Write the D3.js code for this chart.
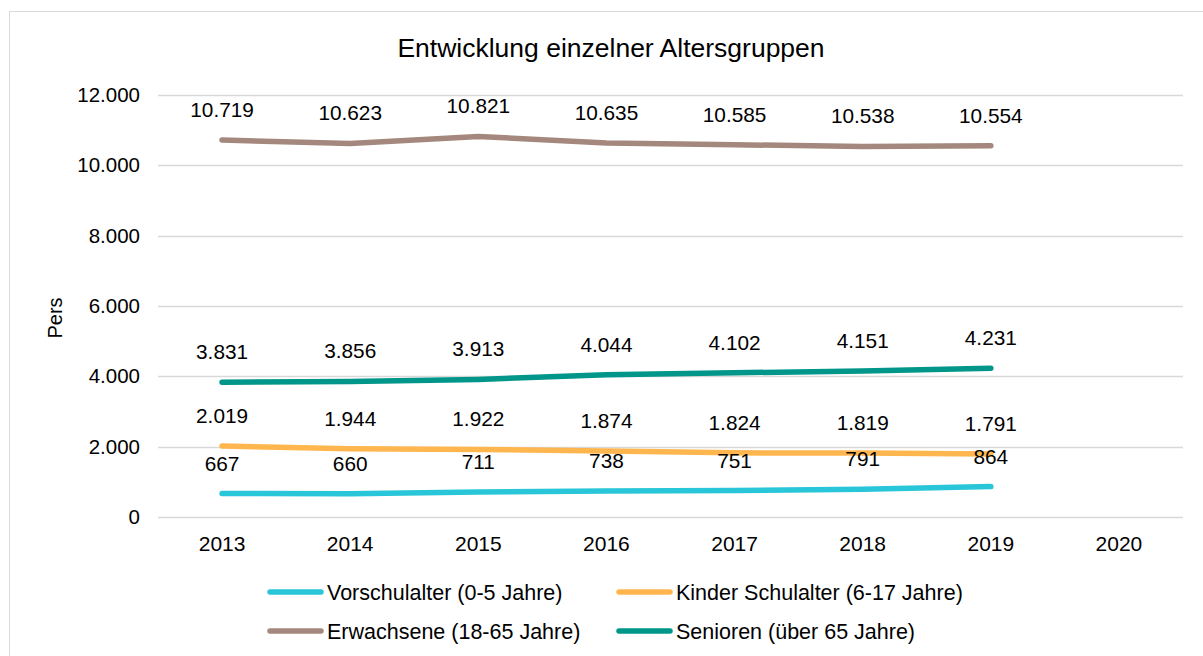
<!DOCTYPE html>
<html>
<head>
<meta charset="utf-8">
<script src="https://cdn.jsdelivr.net/npm/d3@7"></script>
<style>
  html, body { margin: 0; padding: 0; background: #fff; }
  svg { display: block; font-family: "Liberation Sans", Arial, sans-serif; }
</style>
</head>
<body>
<svg id="chart" width="1203" height="656"></svg>
<script>
// Einwohner je Altersgruppe, 2013–2019 (2020 noch ohne Werte)
const years = ["2013", "2014", "2015", "2016", "2017", "2018", "2019", "2020"];
const vorschulalter = [667, 660, 711, 738, 751, 791, 864];
const kinderSchulalter = [2019, 1944, 1922, 1874, 1824, 1819, 1791];
const erwachsene = [10719, 10623, 10821, 10635, 10585, 10538, 10554];
const senioren = [3831, 3856, 3913, 4044, 4102, 4151, 4231];
const yTicks = [0, 2000, 4000, 6000, 8000, 10000, 12000];

const series = [
  { name: "Vorschulalter (0-5 Jahre)", values: vorschulalter, color: "#29c5d8" },
  { name: "Kinder Schulalter (6-17 Jahre)", values: kinderSchulalter, color: "#ffb64f" },
  { name: "Erwachsene (18-65 Jahre)", values: erwachsene, color: "#a4887e" },
  { name: "Senioren (über 65 Jahre)", values: senioren, color: "#00968a" }
];

const svg = d3.select("#chart");
const W = 1203, H = 656;
const plot = { left: 158, right: 1183, top: 95, bottom: 517 };
const FONT = "Liberation Sans, Arial, sans-serif";

// outer frame
svg.append("rect")
  .attr("x", 9.5).attr("y", 11.5)
  .attr("width", W - 9).attr("height", H)
  .attr("fill", "#fff").attr("stroke", "#d9d9d9").attr("stroke-width", 1);

const x = d3.scaleBand().domain(years).range([plot.left, plot.right]);
const y = d3.scaleLinear().domain([0, 12000]).range([plot.bottom, plot.top]);

const fmt = v => d3.format(",")(v).replace(/,/g, ".");

// title
svg.append("text")
  .attr("x", 611).attr("y", 57)
  .attr("text-anchor", "middle")
  .attr("font-size", 26.5).attr("fill", "#000")
  .text("Entwicklung einzelner Altersgruppen");

// gridlines
svg.append("g")
  .selectAll("line").data(yTicks).join("line")
  .attr("x1", plot.left).attr("x2", plot.right)
  .attr("y1", d => Math.round(y(d)) + 0.5).attr("y2", d => Math.round(y(d)) + 0.5)
  .attr("stroke", "#d9d9d9").attr("stroke-width", 1.5);

// y axis
const yAxis = svg.append("g")
  .attr("transform", `translate(${plot.left - 18},0)`)
  .call(d3.axisLeft(y).tickValues(yTicks).tickFormat(fmt).tickSize(0).tickPadding(0));
yAxis.select(".domain").remove();
yAxis.selectAll("text").attr("font-size", 20.5).attr("fill", "#000").attr("font-family", FONT);

// x axis
const xAxis = svg.append("g")
  .attr("transform", `translate(0,${plot.bottom + 16})`)
  .call(d3.axisBottom(x).tickSize(0));
xAxis.select(".domain").remove();
xAxis.selectAll("text").attr("font-size", 21).attr("fill", "#000").attr("font-family", FONT);

// y axis title
svg.append("text")
  .attr("transform", "translate(62,318) rotate(-90)")
  .attr("text-anchor", "middle")
  .attr("font-size", 20).attr("fill", "#000")
  .text("Pers");

const line = d3.line()
  .x((d, i) => x(years[i]) + x.bandwidth() / 2)
  .y(d => y(d));

series.forEach(s => {
  svg.append("path")
    .datum(s.values)
    .attr("d", line)
    .attr("fill", "none")
    .attr("stroke", s.color)
    .attr("stroke-width", 5.5)
    .attr("stroke-linecap", "round")
    .attr("stroke-linejoin", "round");
});

// value labels above each point
series.forEach(s => {
  svg.append("g")
    .selectAll("text").data(s.values).join("text")
    .attr("x", (d, i) => x(years[i]) + x.bandwidth() / 2)
    .attr("y", d => y(d) - 23)
    .attr("text-anchor", "middle")
    .attr("font-size", 20.8).attr("fill", "#000")
    .text(d => fmt(d));
});

// legend
const legendPos = [
  { x: 270, y: 592 }, { x: 619, y: 592 },
  { x: 270, y: 631 }, { x: 619, y: 631 }
];
series.forEach((s, i) => {
  const p = legendPos[i];
  const g = svg.append("g").attr("transform", `translate(${p.x},${p.y})`);
  g.append("line")
    .attr("x1", 0).attr("x2", 51).attr("y1", 0).attr("y2", 0)
    .attr("stroke", s.color).attr("stroke-width", 5.5).attr("stroke-linecap", "round");
  g.append("text")
    .attr("x", 57).attr("y", 7.5)
    .attr("font-size", 21.5).attr("fill", "#000")
    .text(s.name);
});
</script>
</body>
</html>
